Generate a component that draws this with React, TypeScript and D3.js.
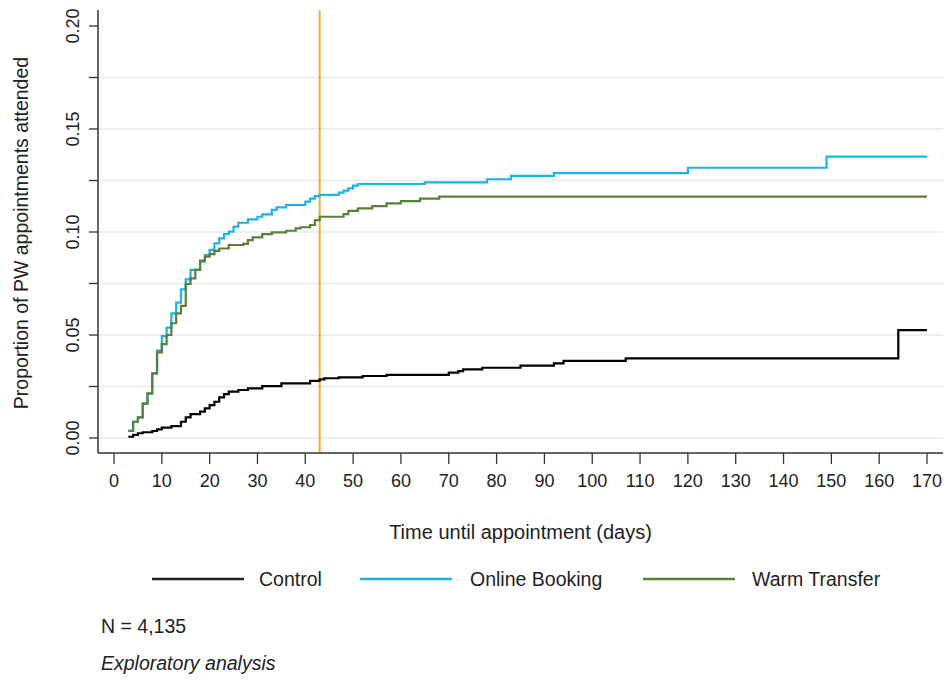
import React from "react";
import * as d3 from "d3";

const controlDays = [3, 4, 5, 6, 8, 9, 10, 12, 14, 15, 16, 18, 19, 20, 21, 22, 23, 24, 26, 28, 31, 35, 41, 43, 44, 47, 52, 57, 70, 72, 73, 77, 85, 92, 94, 107, 164, 170];
const controlValues = [0.0006, 0.0015, 0.0023, 0.0028, 0.0034, 0.0042, 0.005, 0.0058, 0.0079, 0.01, 0.0116, 0.0128, 0.0144, 0.016, 0.0176, 0.0197, 0.0213, 0.0225, 0.0233, 0.0241, 0.0252, 0.0265, 0.0277, 0.0285, 0.029, 0.0294, 0.0301, 0.0306, 0.0317, 0.0325, 0.0333, 0.0341, 0.0351, 0.0362, 0.0374, 0.0387, 0.0524, 0.0524];

const onlineDays = [3, 4, 5, 6, 7, 8, 9, 10, 11, 12, 13, 14, 15, 16, 18, 19, 20, 21, 22, 23, 24, 25, 26, 28, 30, 31, 33, 34, 36, 40, 41, 42, 43, 47, 48, 49, 50, 51, 65, 78, 83, 92, 120, 149, 170];
const onlineValues = [0.0035, 0.0079, 0.01, 0.0165, 0.0215, 0.0314, 0.0424, 0.0495, 0.0536, 0.0605, 0.0657, 0.0722, 0.077, 0.0816, 0.0856, 0.0888, 0.0913, 0.0945, 0.0969, 0.099, 0.1002, 0.1026, 0.1045, 0.1061, 0.1074, 0.1086, 0.1107, 0.112, 0.1131, 0.1147, 0.1162, 0.1174, 0.118, 0.1191, 0.1201, 0.1212, 0.1225, 0.1233, 0.1241, 0.1256, 0.1272, 0.1286, 0.1312, 0.1366, 0.1366];

const warmDays = [3, 4, 5, 6, 7, 8, 9, 10, 11, 12, 13, 14, 15, 16, 17, 18, 19, 20, 21, 22, 24, 27, 28, 29, 31, 33, 36, 38, 39, 41, 42, 43, 48, 49, 51, 54, 57, 60, 64, 68, 170];
const warmValues = [0.0035, 0.0079, 0.01, 0.0168, 0.0217, 0.0314, 0.0416, 0.0456, 0.05, 0.0557, 0.0605, 0.0641, 0.0748, 0.0775, 0.0816, 0.0861, 0.088, 0.0893, 0.0908, 0.092, 0.0937, 0.0942, 0.0961, 0.0974, 0.099, 0.0998, 0.1006, 0.1018, 0.1023, 0.1034, 0.1058, 0.1074, 0.1087, 0.1103, 0.1115, 0.1126, 0.1139, 0.115, 0.1162, 0.1172, 0.1172];

const seriesNames = ["Control", "Online Booking", "Warm Transfer"];
const seriesColors = ["#000000", "#1cb3ea", "#5c7f3a"];

const xTicks = [0, 10, 20, 30, 40, 50, 60, 70, 80, 90, 100, 110, 120, 130, 140, 150, 160, 170];
const yMajorTicks = [0, 0.05, 0.1, 0.15, 0.2];
const yMinorTicks = [0.025, 0.075, 0.125, 0.175];
const gridValues = [0, 0.025, 0.05, 0.075, 0.1, 0.125, 0.15, 0.175];
const markerDay = 43;

const FONT = "'Liberation Sans', Arial, sans-serif";

export default function App() {
  const x = d3.scaleLinear().domain([0, 170]).range([114, 927]);
  const y = d3.scaleLinear().domain([0, 0.2]).range([438, 26]);
  const axisLeft = 98;
  const axisBottom = 453;
  const plotTop = 10;
  const plotRight = 943;

  const line = d3
    .line<[number, number]>()
    .x((d) => x(d[0]))
    .y((d) => y(d[1]))
    .curve(d3.curveStepAfter);

  const series = [
    { days: controlDays, values: controlValues },
    { days: onlineDays, values: onlineValues },
    { days: warmDays, values: warmValues },
  ];

  const legendItems = [
    { lx: 152, tx: 259 },
    { lx: 360, tx: 470 },
    { lx: 643, tx: 752 },
  ];

  return (
    <svg
      width={949}
      height={682}
      style={{ position: "absolute", left: 0, top: 0, background: "#fff" }}
      fontFamily={FONT}
    >
      <rect x={0} y={0} width={949} height={682} fill="#fff" />
      {gridValues.map((g) => (
        <line key={"g" + g} x1={axisLeft} x2={plotRight} y1={y(g)} y2={y(g)} stroke="#eaf0f0" strokeWidth={2} />
      ))}
      <line x1={x(markerDay)} x2={x(markerDay)} y1={plotTop} y2={axisBottom} stroke="#f5a93e" strokeWidth={2} />
      {series.map((s, i) => (
        <path
          key={i}
          d={line(s.days.map((d, j) => [d, s.values[j]] as [number, number])) || ""}
          fill="none"
          stroke={seriesColors[i]}
          strokeWidth={2.2}
        />
      ))}
      <line x1={axisLeft} x2={axisLeft} y1={plotTop} y2={axisBottom} stroke="#333" strokeWidth={1.5} />
      <line x1={axisLeft} x2={plotRight} y1={axisBottom} y2={axisBottom} stroke="#333" strokeWidth={1.5} />
      {[...yMajorTicks, ...yMinorTicks].map((t) => (
        <line key={"yt" + t} x1={89} x2={axisLeft} y1={y(t)} y2={y(t)} stroke="#333" strokeWidth={1.3} />
      ))}
      {yMajorTicks.map((t) => (
        <text
          key={"yl" + t}
          transform={`translate(${79},${y(t)}) rotate(-90)`}
          textAnchor="middle"
          fontSize={18}
          fill="#222"
        >
          {t.toFixed(2)}
        </text>
      ))}
      {xTicks.map((t) => (
        <g key={"xt" + t}>
          <line x1={x(t)} x2={x(t)} y1={axisBottom} y2={464} stroke="#333" strokeWidth={1.3} />
          <text x={x(t)} y={487} textAnchor="middle" fontSize={18} fill="#222">
            {t}
          </text>
        </g>
      ))}
      <text x={520.5} y={539} textAnchor="middle" fontSize={20} fill="#222">
        Time until appointment (days)
      </text>
      <text transform={`translate(${28},${233}) rotate(-90)`} textAnchor="middle" fontSize={19.5} fill="#222">
        Proportion of PW appointments attended
      </text>
      {seriesNames.map((n, i) => (
        <g key={"lg" + n}>
          <line
            x1={legendItems[i].lx}
            x2={legendItems[i].lx + 92}
            y1={579}
            y2={579}
            stroke={seriesColors[i] === "#000000" ? "#222" : seriesColors[i]}
            strokeWidth={2.5}
          />
          <text x={legendItems[i].tx} y={586} fontSize={19.5} fill="#222">
            {n}
          </text>
        </g>
      ))}
      <text x={101} y={633} fontSize={19.5} fill="#222">
        N = 4,135
      </text>
      <text x={101} y={670} fontSize={19.5} fontStyle="italic" fill="#222">
        Exploratory analysis
      </text>
    </svg>
  );
}
